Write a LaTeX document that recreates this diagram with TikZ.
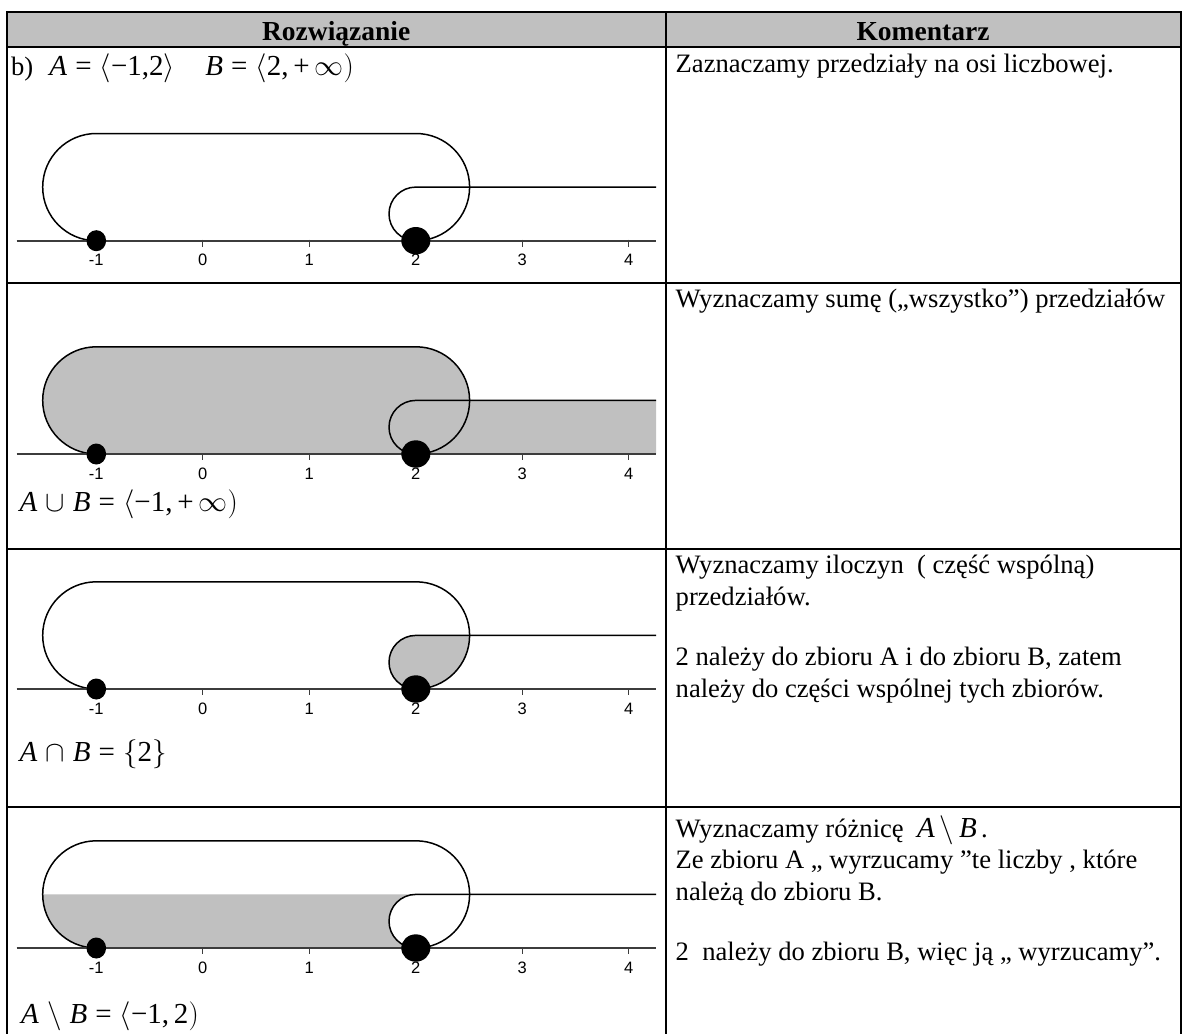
\RequirePackage{fix-cm}
\documentclass[tikz,border=0pt]{standalone}
\usepackage{fontspec}
\setmainfont{Liberation Serif}
\newfontfamily\labelfont{Liberation Sans}
\definecolor{cellgray}{RGB}{192,192,192}
\definecolor{axisgray}{RGB}{60,60,60}
\tikzset{
  rule/.style={line width=2pt},
  axisline/.style={line width=2.2pt, axisgray},
  tickline/.style={line width=1.2pt, axisgray},
  curveline/.style={line width=1.5pt, black},
  grayfill/.style={fill=cellgray},
  lbl/.style={inner sep=0pt, font=\labelfont\fontsize{16.5}{18}\selectfont},
  txt/.style={anchor=base west, inner sep=0pt, font=\fontsize{26.6}{31}\selectfont},
  formula/.style={anchor=base west, inner sep=0pt, font=\fontsize{29}{34}\selectfont},
  head/.style={anchor=base, inner sep=0pt, font=\bfseries\fontsize{27.5}{32}\selectfont}
}
% region paths (local coordinates: axis at y=0, y upwards, 1 unit = 1 px)
\newcommand\stadiumpath{(96.3,0) arc[start angle=270,end angle=90,radius=53.6] -- (416,107.2) arc[start angle=90,end angle=-90,radius=53.6] -- cycle}
\newcommand\bregionpath{(415.8,0) arc[start angle=270,end angle=90,radius=26.8] -- (656,53.6) -- (656,0) -- cycle}
\newcommand\diffpath{(42.7,53.6) -- (415.8,53.6) arc[start angle=90,end angle=270,radius=26.8] -- (96.3,0) arc[start angle=270,end angle=180,radius=53.6] -- cycle}
% the drawing common to every row
\newcommand\intervalrow[1]{%
  \draw[curveline] (96.3,0) arc[start angle=270,end angle=90,radius=53.6] -- (416,107.2) arc[start angle=90,end angle=-90,radius=53.6];
  \draw[curveline] (415.8,0) arc[start angle=270,end angle=90,radius=26.8] -- (656,53.6);
  \draw[axisline] (16.5,0) -- (656,0);
  \foreach \n in {-1,...,4} {\draw[tickline] ({202.8+106.5*\n},1) -- ({202.8+106.5*\n},-6);}
  \fill (96.3,0) ellipse [x radius=9.8, y radius=10.5];
  \fill (415.8,0) ellipse [x radius=14.5, y radius=13.7];
  \node[lbl] (#1m1) at (96.3,-19.5) {-1};
  \node[lbl] (#1n0) at (202.8,-19.5) {0};
  \node[lbl] (#1n1) at (309.3,-19.5) {1};
  \node[lbl] (#1n2) at (415.8,-19.5) {2};
  \node[lbl] (#1n3) at (522.3,-19.5) {3};
  \node[lbl] (#1n4) at (628.8,-19.5) {4};
}
\begin{document}
\begin{tikzpicture}[x=1pt,y=1pt]
\useasboundingbox (0,0) rectangle (1182,-1034);
\fill[white] (0,0) rectangle (1182,-1034);

% ---- table ----
\fill[cellgray] (6.7,-12) rectangle (1180.5,-46.5);
\draw[rule] (6.7,-12) -- (1180.5,-12);
\draw[rule] (6.7,-46.5) -- (1180.5,-46.5);
\draw[rule] (6.7,-283) -- (1180.5,-283);
\draw[rule] (6.7,-549) -- (1180.5,-549);
\draw[rule] (6.7,-807) -- (1180.5,-807);
\draw[rule] (6.7,-11) -- (6.7,-1034);
\draw[rule] (665.7,-11) -- (665.7,-1034);
\draw[rule] (1180.5,-11) -- (1180.5,-1034);

\node[head] (h1) at (336.2,-40) {Rozwiązanie};
\node[head] (h2) at (923,-40) {Komentarz};

% ---- row 1 ----
\node[formula] (f1) at (11,-75) {{\fontsize{26.6}{31}\selectfont b)}\;\;\textit{A}\;=\;$\bigl\langle$−1,2$\bigr\rangle$\hspace{1.05em}\textit{B}\;=\;$\bigl\langle$2,\,+\,$\infty\bigr)$};
\begin{scope}[shift={(0,-240.7)}]
  \intervalrow{ra}
\end{scope}
\node[txt] (c1) at (675.5,-72) {Zaznaczamy przedziały na osi liczbowej.};

% ---- row 2 (union) ----
\begin{scope}[shift={(0,-454)}]
  \fill[grayfill] \stadiumpath;
  \fill[grayfill] \bregionpath;
  \intervalrow{rb}
\end{scope}
\node[formula] (f2) at (19.5,-511) {\textit{A}\;$\cup$\;\textit{B}\;=\;$\bigl\langle$−1,\,+\,$\infty\bigr)$};
\node[txt] (c2) at (675.5,-307) {Wyznaczamy sumę („wszystko”) przedziałów};

% ---- row 3 (intersection) ----
\begin{scope}[shift={(0,-689)}]
  \begin{scope}
    \clip \stadiumpath;
    \fill[grayfill] \bregionpath;
  \end{scope}
  \intervalrow{rc}
\end{scope}
\node[formula] (f3) at (19.5,-761) {\textit{A}\;$\cap$\;\textit{B}\;=\;$\bigl\{$2$\bigr\}$};
\node[txt] (c3a) at (675.5,-573) {Wyznaczamy iloczyn\ \ ( część wspólną)};
\node[txt] (c3b) at (675.5,-605) {przedziałów.};
\node[txt] (c3c) at (675.5,-665) {2 należy do zbioru A i do zbioru B, zatem};
\node[txt] (c3d) at (675.5,-697) {należy do części wspólnej tych zbiorów.};

% ---- row 4 (difference) ----
\begin{scope}[shift={(0,-948)}]
  \fill[grayfill] \diffpath;
  \intervalrow{rd}
\end{scope}
\node[formula] (f4) at (21,-1023) {\textit{A}\;$\setminus$\;\textit{B}\;=\;$\bigl\langle$−1,\,2$\bigr)$};
\node[txt] (c4a) at (675.5,-837) {Wyznaczamy różnicę\ \ {\fontsize{29}{34}\selectfont\textit{A}\,$\setminus$\,\textit{B}}\,.};
\node[txt] (c4b) at (675.5,-868) {Ze zbioru A „ wyrzucamy ”te liczby , które};
\node[txt] (c4c) at (675.5,-900) {należą do zbioru B.};
\node[txt] (c4d) at (675.5,-960) {2\ \ należy do zbioru B, więc ją „ wyrzucamy”.};
\end{tikzpicture}
\end{document}
